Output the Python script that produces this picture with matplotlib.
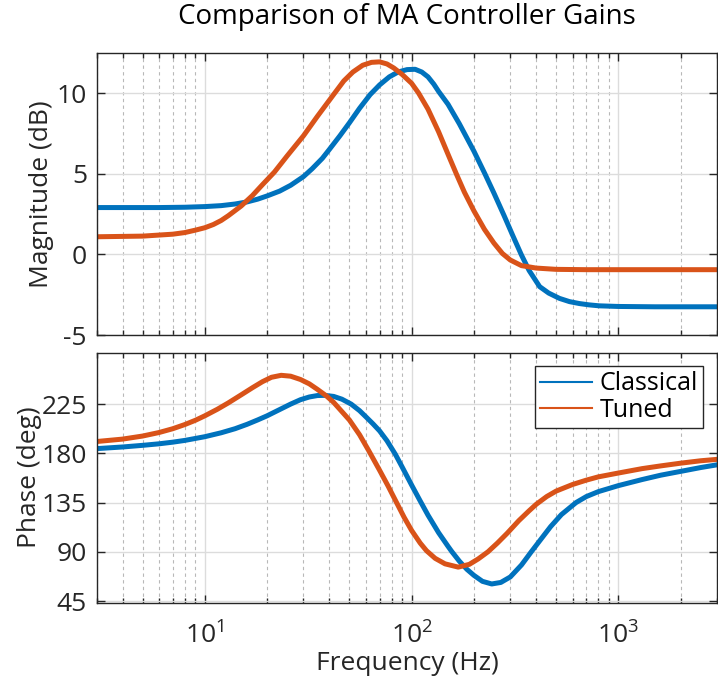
import matplotlib
matplotlib.use("Agg")
import matplotlib.pyplot as plt
from matplotlib.ticker import LogLocator, NullFormatter, FixedLocator

plt.rcParams['font.family'] = ['Open Sans', 'DejaVu Sans']

# Magnitude response (dB)
mag_freq_classical = [3, 6, 8, 10, 12, 14, 16, 18, 20, 23, 26, 30, 33, 37, 40,
                      45, 50, 56, 63, 70, 78, 86, 95, 104, 112, 120, 128, 135,
                      150, 170, 200, 226, 250, 280, 310, 340, 370, 416, 460,
                      519, 580, 648, 720, 807, 1000, 1500, 3000]
mag_classical = [2.9, 2.9, 2.92, 2.96, 3.02, 3.12, 3.25, 3.42, 3.62, 3.92, 4.28,
                 4.82, 5.3, 5.95, 6.5, 7.35, 8.15, 9.05, 9.9, 10.5, 11.0, 11.3,
                 11.45, 11.47, 11.3, 11.0, 10.55, 10.1, 9.3, 8.1, 6.4, 5.0, 3.8,
                 2.4, 1.1, -0.05, -1.0, -2.0, -2.4, -2.73, -2.93, -3.05, -3.13,
                 -3.19, -3.23, -3.25, -3.25]

mag_freq_tuned = [3, 5, 7, 8, 9, 10, 11, 12, 13, 15, 17, 19, 21.7, 25, 30, 35,
                  42.2, 47, 52, 58, 64, 70, 76, 82, 90, 100, 108, 120, 135,
                  150, 165, 180, 200, 225, 250, 275, 300, 340, 400, 500, 700,
                  3000]
mag_tuned = [1.09, 1.13, 1.25, 1.35, 1.5, 1.65, 1.85, 2.1, 2.4, 3.0, 3.65, 4.32,
             5.1, 6.1, 7.35, 8.55, 9.95, 10.75, 11.3, 11.72, 11.9, 11.93, 11.8,
             11.55, 11.15, 10.6, 10.0, 9.0, 7.6, 6.2, 4.95, 3.85, 2.7, 1.55,
             0.7, 0.05, -0.35, -0.7, -0.85, -0.93, -0.95, -0.95]

# Phase response (deg)
ph_freq_classical = [3, 4, 5, 6, 7, 8, 10, 12, 14, 16, 18, 20, 23, 26, 29, 32,
                     35, 38, 42, 46, 51, 56, 60, 65, 70, 76, 83.5, 90, 100, 110,
                     120, 135, 150, 156, 170, 185, 200, 220, 244, 270, 300, 340,
                     379, 420, 470, 530, 624, 700, 800, 1000, 1300, 1600, 2000,
                     2500, 3000]
ph_classical = [184.3, 185.8, 187.3, 188.7, 190.2, 191.8, 195.2, 198.8, 202.5,
                206.5, 210.5, 214.3, 220, 225, 229, 231.5, 232.8, 233, 232,
                229.5, 225, 219, 213.5, 207, 200.5, 191.5, 179, 167.5, 151,
                136.5, 123.5, 107.5, 95, 90.5, 81.5, 74, 68.5, 63, 60.6, 62,
                67, 78, 90, 101, 113, 124, 135, 140.5, 145, 150.5, 156, 160,
                163.5, 167, 169.5]

ph_freq_tuned = [3, 4, 5, 6, 7, 8, 9, 10, 11.5, 12.96, 15, 17, 19, 21, 23.4,
                 26, 29, 32, 35, 38.7, 42, 50, 56, 62, 70, 77, 83.5, 92, 100,
                 110, 118, 130, 145, 168, 190, 210, 234, 260, 290, 330, 370,
                 401, 450, 500, 600, 700, 800, 1000, 1300, 1600, 2000, 2500,
                 3000]
ph_tuned = [190.8, 193, 195.8, 199, 202.5, 206.3, 210.2, 214.3, 220.3, 226,
            233.5, 240, 245.5, 249.5, 251.3, 250.5, 247.5, 243.5, 238.5, 232.5,
            226.5, 210.5, 197, 182.5, 164.5, 150, 137, 121.5, 109.5, 98, 91,
            84, 79, 76, 78.5, 83.5, 90, 98, 107, 118.5, 127.5, 133.5, 140.5,
            145.5, 151.5, 155.5, 158.5, 162, 166, 168.5, 171, 173.2, 174.5]

series_names = ['Classical', 'Tuned']
series_colors = ['#0072BD', '#D95319']

mag_ticks = [-5, 0, 5, 10]
mag_ticklabels = ['-5', '0', '5', '10']
phase_ticks = [45, 90, 135, 180, 225]

fig = plt.figure(figsize=(7.18, 6.84), dpi=100)
ax_mag = fig.add_axes([0.1347, 0.5102, 0.8640, 0.4128])
ax_ph = fig.add_axes([0.1347, 0.1189, 0.8640, 0.3655])

lw = 3.6
ax_mag.plot(mag_freq_classical, mag_classical, color=series_colors[0], lw=lw)
ax_mag.plot(mag_freq_tuned, mag_tuned, color=series_colors[1], lw=lw)
ax_ph.plot(ph_freq_classical, ph_classical, color=series_colors[0], lw=lw,
           label=series_names[0])
ax_ph.plot(ph_freq_tuned, ph_tuned, color=series_colors[1], lw=lw,
           label=series_names[1])

for ax in (ax_mag, ax_ph):
    ax.set_xscale('log')
    ax.set_xlim(3, 3000)
    ax.xaxis.set_major_locator(LogLocator(base=10, numticks=10))
    ax.xaxis.set_minor_locator(LogLocator(base=10, subs=range(2, 10), numticks=20))
    ax.xaxis.set_minor_formatter(NullFormatter())
    ax.grid(True, which='major', color='#dcdcdc', lw=1.0, ls='-')
    ax.grid(True, which='minor', axis='x', color='#b8b8b8', lw=0.8, ls=(0, (3, 3)))
    ax.set_axisbelow(True)
    ax.tick_params(which='both', direction='in', top=True, right=True,
                   labelsize=19, colors='#262626', width=1.0)
    ax.tick_params(axis='y', pad=7)
    ax.tick_params(axis='x', pad=14)
    ax.tick_params(which='major', length=6)
    ax.tick_params(which='minor', length=3.5)
    for sp in ax.spines.values():
        sp.set_color('#262626')
        sp.set_linewidth(1.0)

ax_mag.set_ylim(-5, 12.5)
ax_mag.yaxis.set_major_locator(FixedLocator(mag_ticks))
ax_mag.set_yticklabels(mag_ticklabels)
ax_mag.set_xticklabels([])
ax_mag.set_ylabel('Magnitude (dB)', fontsize=19, color='#262626', labelpad=2)

ax_ph.set_ylim(43.5, 272)
ax_ph.yaxis.set_major_locator(FixedLocator(phase_ticks))
ax_ph.set_ylabel('Phase (deg)', fontsize=19, color='#262626', labelpad=0)
ax_ph.set_xlabel('Frequency (Hz)', fontsize=19, color='#262626', labelpad=1)

leg = ax_ph.legend(loc='upper right', fontsize=18, frameon=True, fancybox=False,
                   edgecolor='#262626', framealpha=1, borderpad=0.2,
                   handlelength=2.1, handletextpad=0.3, labelspacing=0.05,
                   borderaxespad=0.55)
leg.get_frame().set_linewidth(1.0)
for line in leg.get_lines():
    line.set_linewidth(1.5)

fig.text(0.567, 0.975, 'Comparison of MA Controller Gains', ha='center',
         va='center', fontsize=20, color='#000000')

fig.savefig('out.png', dpi=100)
